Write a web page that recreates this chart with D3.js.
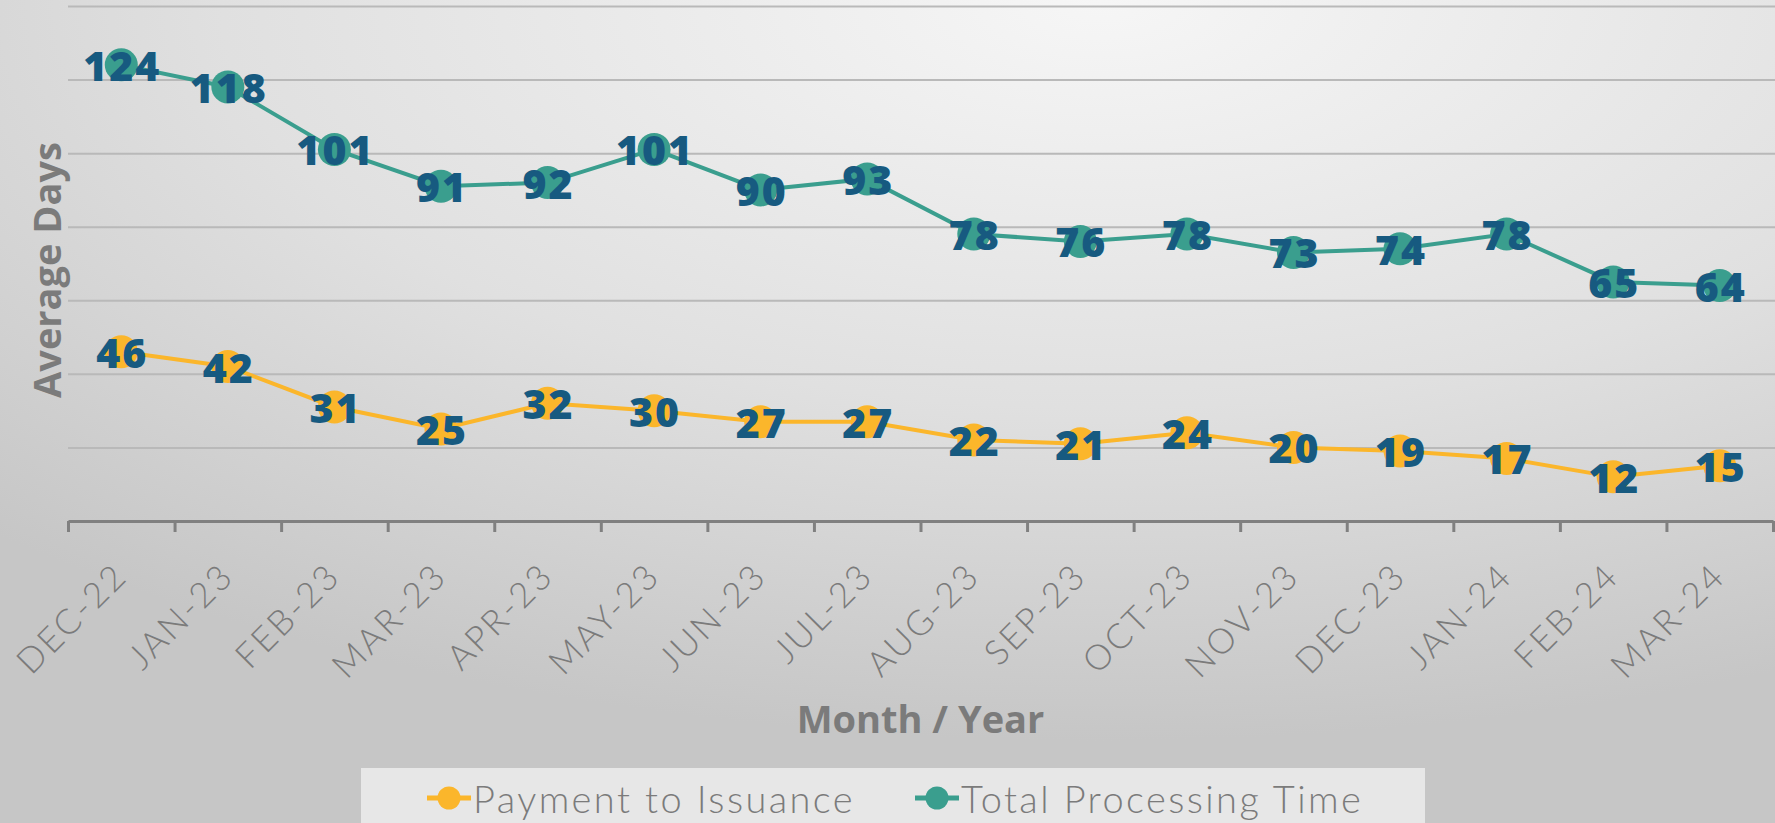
<!DOCTYPE html>
<html>
<head>
<meta charset="utf-8">
<script src="https://cdn.jsdelivr.net/npm/d3@7"></script>
<style>
  html, body { margin: 0; padding: 0; overflow: hidden; }
  svg { display: block; }
</style>
</head>
<body>
<svg id="chart"></svg>
<script>
// data
var months = ["DEC-22", "JAN-23", "FEB-23", "MAR-23", "APR-23", "MAY-23", "JUN-23", "JUL-23",
    "AUG-23", "SEP-23", "OCT-23", "NOV-23", "DEC-23", "JAN-24", "FEB-24", "MAR-24"];
var paymentToIssuance = [46, 42, 31, 25, 32, 30, 27, 27, 22, 21, 24, 20, 19, 17, 12, 15];
var totalProcessing = [124, 118, 101, 91, 92, 101, 90, 93, 78, 76, 78, 73, 74, 78, 65, 64];
var yTicks = [20, 40, 60, 80, 100, 120, 140];
var seriesNames = ["Payment to Issuance", "Total Processing Time"];

var W = 1775, H = 823;
var margin = { top: 6, right: 2, left: 68 },
    axisY = 521;

var colors = { pay: "#fbb62b", total: "#3a9e8e", label: "#175a80", gray: "#7b7b7b" };

var svg = d3.select("#chart").attr("width", W).attr("height", H);

// background gradient
var defs = svg.append("defs");
var grad = defs.append("radialGradient").attr("id", "bg")
    .attr("cx", 0.62).attr("cy", 0.0).attr("r", 0.9);
grad.append("stop").attr("offset", "0%").attr("stop-color", "#f6f6f6");
grad.append("stop").attr("offset", "55%").attr("stop-color", "#e0e0e0");
grad.append("stop").attr("offset", "100%").attr("stop-color", "#c6c6c6");
svg.append("rect").attr("width", W).attr("height", H).attr("fill", "url(#bg)");

var x = d3.scaleBand().domain(months).range([margin.left, W - margin.right]).padding(0);
var xEdge = d3.scaleLinear().domain([0, months.length]).range([margin.left, W - margin.right]);
var y = d3.scaleLinear().domain([0, 140]).range([axisY, margin.top]);
var cx = function(d) { return x(d) + x.bandwidth() / 2; };

// gridlines
var grid = svg.append("g").attr("transform", "translate(" + margin.left + ",0)")
    .call(d3.axisLeft(y).tickValues(yTicks).tickSize(-(W - margin.left)).tickFormat(""));
grid.select(".domain").remove();
grid.selectAll(".tick line").attr("stroke", "#b9b9b9").attr("stroke-width", 2);

// x axis: domain + boundary ticks
var xa = svg.append("g").attr("transform", "translate(0," + axisY + ")")
    .call(d3.axisBottom(xEdge).tickValues(d3.range(months.length + 1))
        .tickSize(11).tickSizeOuter(0).tickFormat(""));
xa.select(".domain").attr("stroke", "#808080").attr("stroke-width", 3);
xa.selectAll(".tick line").attr("stroke", "#808080").attr("stroke-width", 3);

// month labels
var xl = svg.append("g").attr("transform", "translate(0," + axisY + ")")
    .call(d3.axisBottom(x).tickSize(0));
xl.select(".domain").remove();
xl.selectAll(".tick text")
    .attr("transform", "translate(8,57) rotate(-45)")
    .attr("y", 0).attr("dy", 0).attr("x", 0)
    .attr("text-anchor", "end")
    .attr("fill", colors.gray)
    .style("font-family", "Lato, 'Open Sans', sans-serif")
    .style("font-weight", 300)
    .style("font-size", "35px")
    .style("letter-spacing", "2.5px");

// axis titles
svg.append("text")
    .attr("transform", "translate(46,270) rotate(-90)")
    .attr("text-anchor", "middle").attr("dominant-baseline", "central")
    .attr("fill", colors.gray)
    .style("font-family", "'Open Sans', sans-serif").style("font-weight", 700).style("font-size", "38px")
    .text("Average Days");
svg.append("text")
    .attr("x", (margin.left + W - margin.right) / 2).attr("y", 718)
    .attr("text-anchor", "middle").attr("dominant-baseline", "central")
    .attr("fill", colors.gray)
    .style("font-family", "'Open Sans', sans-serif").style("font-weight", 700).style("font-size", "38px")
    .text("Month / Year");

// series
var series = [
    { name: seriesNames[0], values: paymentToIssuance, color: colors.pay },
    { name: seriesNames[1], values: totalProcessing, color: colors.total }
];
var line = d3.line().x(function(d, i) { return cx(months[i]); }).y(function(d) { return y(d); });

series.forEach(function(s) {
    var g = svg.append("g");
    g.append("path").attr("d", line(s.values))
        .attr("fill", "none").attr("stroke", s.color).attr("stroke-width", 4);
    g.selectAll("circle").data(s.values).enter().append("circle")
        .attr("cx", function(d, i) { return cx(months[i]); })
        .attr("cy", function(d) { return y(d); })
        .attr("r", 16.5).attr("fill", s.color);
    g.selectAll("text").data(s.values).enter().append("text")
        .attr("x", function(d, i) { return cx(months[i]) + 1; })
        .attr("y", function(d) { return y(d); })
        .attr("text-anchor", "middle").attr("dominant-baseline", "central")
        .attr("fill", colors.label)
        .style("font-family", "'Open Sans', sans-serif").style("font-weight", 800).style("font-size", "41px")
        .style("letter-spacing", "2px")
        .text(function(d) { return d; });
});

// legend
var lg = svg.append("g");
lg.append("rect").attr("x", 361).attr("y", 768).attr("width", 1064).attr("height", 60)
    .attr("fill", "#ececec").attr("fill-opacity", 0.85);
var legendX = [449, 937];
series.forEach(function(s, i) {
    var item = lg.append("g").attr("transform", "translate(" + legendX[i] + ",798)");
    item.append("line").attr("x1", -22).attr("x2", 22).attr("stroke", s.color).attr("stroke-width", 5);
    item.append("circle").attr("r", 11.5).attr("fill", s.color);
    item.append("text").attr("x", 24).attr("dominant-baseline", "central")
        .attr("fill", colors.gray)
        .style("font-family", "Lato, 'Open Sans', sans-serif").style("font-weight", 300).style("font-size", "38px")
        .style("letter-spacing", "2.4px")
        .text(s.name);
});
</script>
</body>
</html>
